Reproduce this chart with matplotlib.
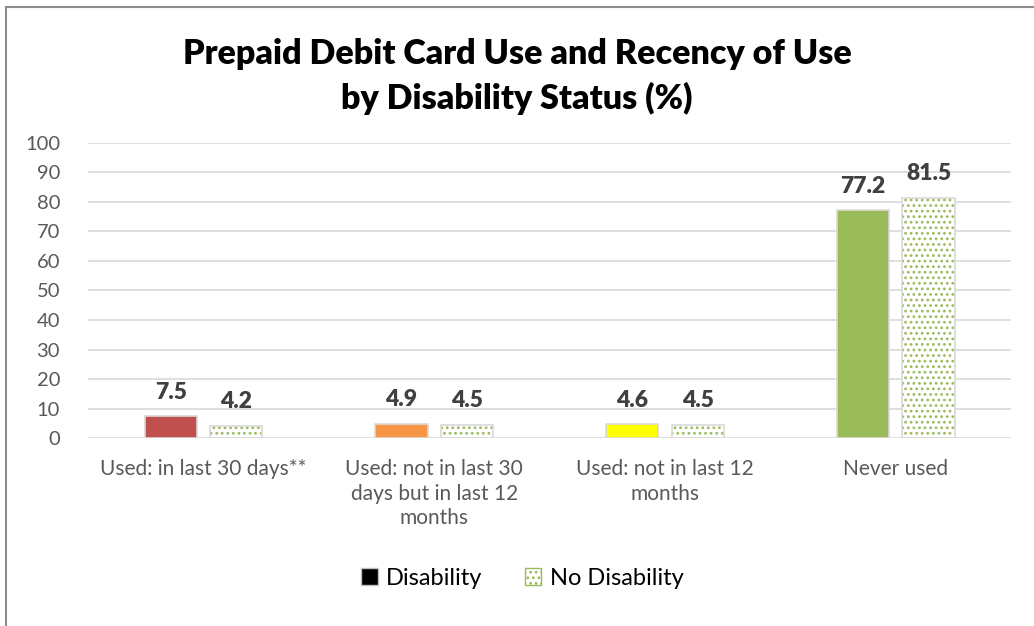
import matplotlib.pyplot as plt
import numpy as np
from matplotlib.patches import Rectangle
from matplotlib.lines import Line2D

categories = ['Used: in last 30 days**', 'Used: not in last 30\ndays but in last 12\nmonths',
              'Used: not in last 12\nmonths', 'Never used']
disability = [7.5, 4.9, 4.6, 77.2]
no_disability = [4.2, 4.5, 4.5, 81.5]
dis_colors = ['#C0504D', '#F79646', '#FFFF00', '#9BBB59']
yticks = list(range(0, 101, 10))

plt.rcParams['font.family'] = ['Lato', 'DejaVu Sans']
plt.rcParams['hatch.linewidth'] = 1.2

fig = plt.figure(figsize=(10.34, 6.26), dpi=100)
ax = fig.add_axes([0.085, 0.3003, 0.893, 0.4713])

x = np.arange(len(categories))
w = 0.226
gap = 0.057
xd = x - w / 2 - gap / 2
xn = x + w / 2 + gap / 2

# Disability bars
ax.bar(xd, disability, w, color=dis_colors, edgecolor='#D9D9D9', linewidth=1.2, zorder=3)
# No Disability bars: dotted fill then grey outline
ax.bar(xn, no_disability, w, color='white', edgecolor='#9BBB59', hatch='...',
       linewidth=0, zorder=3)
ax.bar(xn, no_disability, w, fill=False, edgecolor='#D9D9D9', linewidth=1.2, zorder=4)

for i in range(len(categories)):
    ax.text(xd[i], disability[i] + 4.5, f'{disability[i]:.1f}', ha='center', va='bottom',
            fontsize=16.5, fontweight='heavy', color='#404040')
    ax.text(xn[i], no_disability[i] + 4.5, f'{no_disability[i]:.1f}', ha='center', va='bottom',
            fontsize=16.5, fontweight='heavy', color='#404040')

ax.set_ylim(0, 100)
ax.set_xlim(-0.5, len(categories) - 0.5)
ax.set_yticks(yticks)
ax.yaxis.grid(True, color='#D9D9D9', linewidth=1.2, zorder=0)
ax.set_axisbelow(True)
for s in ax.spines.values():
    s.set_visible(False)
ax.tick_params(axis='y', length=0, labelsize=14.5, colors='#595959', pad=20)
ax.tick_params(axis='x', length=0, labelsize=15, colors='#595959', pad=15)
ax.set_xticks(x)
ax.set_xticklabels(categories, linespacing=1.3)

fig.text(0.5, 0.94, 'Prepaid Debit Card Use and Recency of Use\nby Disability Status (%)',
         ha='center', va='top', fontsize=24.5, fontweight='heavy', color='black', linespacing=1.45)

handles = [Rectangle((0, 0), 1, 1, facecolor='black', edgecolor='#BFBFBF'),
           Rectangle((0, 0), 1, 1, facecolor='white', edgecolor='#BFBFBF')]
leg = fig.legend(handles, ['Disability', 'No Disability'], loc='center', bbox_to_anchor=(0.505, 0.076),
                 ncol=2, frameon=False, fontsize=17, handlelength=0.7, handleheight=0.7,
                 handletextpad=0.35, columnspacing=1.8)
nd = leg.legend_handles[1]
nd.set_hatch('...')
nd.set_edgecolor('#9BBB59')

# outer frame (left and top only visible)
fig.add_artist(Line2D([6 / 1034, 6 / 1034], [0, 1 - 7 / 626], transform=fig.transFigure, color='#8C8C8C', lw=1.5))
fig.add_artist(Line2D([6 / 1034, 1], [1 - 7 / 626, 1 - 7 / 626], transform=fig.transFigure, color='#8C8C8C', lw=1.5))

fig.savefig('out.png', dpi=100, facecolor='white')
